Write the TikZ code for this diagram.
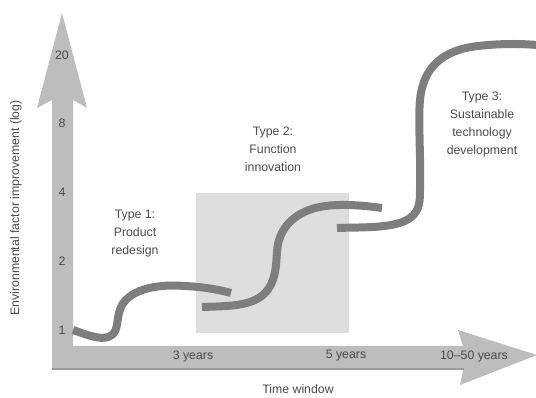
\documentclass[tikz,border=0pt]{standalone}
\usepackage{fontspec}
\setmainfont{Liberation Sans}
\usepackage{tikz}
\usepackage{xcolor}
\usetikzlibrary{positioning,calc}
\definecolor{AxisGray}{HTML}{BDBDBD}
\definecolor{AxisShade}{HTML}{9C9C9C}
\definecolor{CurveGray}{HTML}{7E7E7E}
\definecolor{BoxGray}{HTML}{DEDEDE}
\definecolor{Ink}{HTML}{4A4A4A}

\begin{document}
\begin{tikzpicture}[
  x=1pt,y=-1pt,
  axisbar/.style={fill=AxisGray,draw=none},
  wave/.style={draw=CurveGray,line width=8pt,line cap=butt},
  tick/.style={text=Ink,font=\fontsize{12.3}{14}\selectfont,inner sep=0pt},
  typelabel/.style={text=Ink,font=\fontsize{12.3}{18}\selectfont,align=center,inner sep=0pt},
  axislabel/.style={text=Ink,font=\fontsize{12.3}{14}\selectfont,inner sep=0pt}
]
\useasboundingbox (0,0) rectangle (536,398);
% innovation window
\fill[BoxGray] (196,193) rectangle (349,333);
% axes as wide arrows
\fill[axisbar] (52,100) -- (37,108) -- (62,13) -- (87,108) -- (73,100)
  -- (73,346) -- (463,346) -- (458,330) -- (537,355) -- (460,385)
  -- (463,370) -- (52,370) -- cycle;
\draw[AxisShade,line width=2.5pt] (52,368.75) -- (463.5,368.75);
% ticks
\node[tick] (t20) at (62,55) {20};
\node[tick] (t8) at (62,123) {8};
\node[tick] (t4) at (62,192) {4};
\node[tick] (t2) at (62,261) {2};
\node[tick] (t1) at (62,330) {1};
\node[tick] (y3) at (193,356) {3 years};
\node[tick] (y5) at (346,356) {5 years};
\node[tick] (y50) at (474,356) {10--50 years};
% axis titles
\node[axislabel] (xlab) at (298,389) {Time window};
\node[axislabel,rotate=90] (ylab) at (16,208) {Environmental factor improvement (log)};
% the three curves
\draw[wave] (73,330) .. controls (90,336) and (105,342) .. (113,334)
  .. controls (119,328) and (116,316) .. (122,305)
  .. controls (132,288) and (160,284) .. (185,286)
  .. controls (205,287) and (220,290) .. (231,293);
\draw[wave] (202,307) .. controls (225,306) and (250,307) .. (264,294)
  .. controls (276,283) and (276,265) .. (277,252)
  .. controls (278,232) and (290,215) .. (315,208)
  .. controls (335,203) and (360,205) .. (382,208);
\draw[wave] (337,228) .. controls (360,227) and (395,229) .. (410,218)
  .. controls (420,211) and (420,200) .. (420,190)
  .. controls (421,160) and (418,120) .. (420,100)
  .. controls (423,68) and (442,50) .. (478,46)
  .. controls (505,43) and (525,44) .. (537,45);
% labels
\node[typelabel] (type1) at (135,234) {Type 1:\\Product\\redesign};
\node[typelabel] (type2) at (273,149) {Type 2:\\Function\\innovation};
\node[typelabel] (type3) at (482,124) {Type 3:\\Sustainable\\technology\\development};
\end{tikzpicture}
\end{document}
